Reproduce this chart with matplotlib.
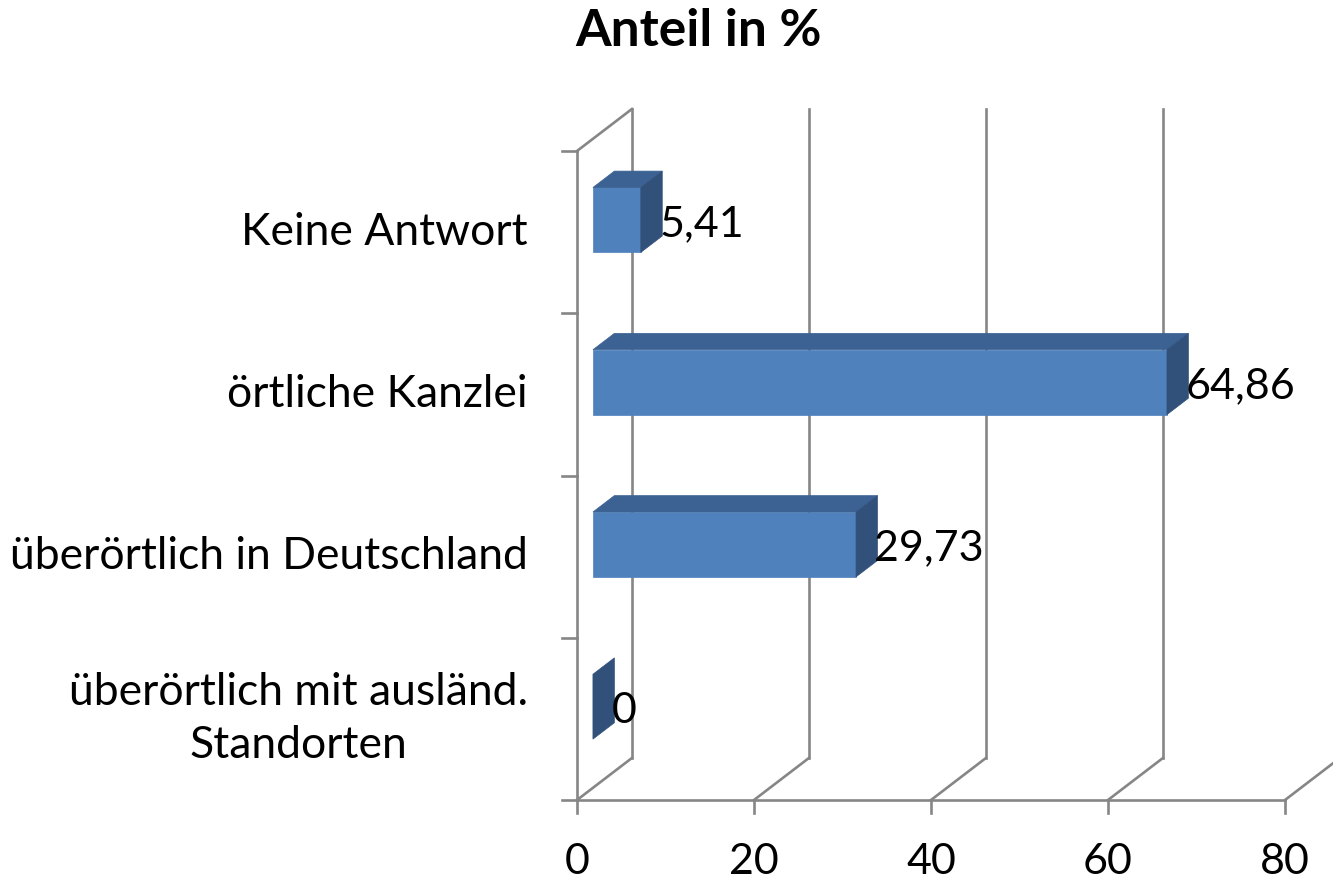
import matplotlib
matplotlib.use("Agg")
import matplotlib.pyplot as plt
from matplotlib.patches import Polygon

plt.rcParams['font.family'] = ['Lato', 'DejaVu Sans']

# data (bottom to top, as drawn)
categories = ["überörtlich mit ausländ.\nStandorten", "überörtlich in Deutschland",
              "örtliche Kanzlei", "Keine Antwort"]
values = [0, 29.73, 64.86, 5.41]
x_ticks = [0, 20, 40, 60, 80]
title = "Anteil in %"

# colours
front_col = "#4f81bd"
top_col = "#3c6293"
side_col = "#31517b"
grid_col = "#868686"

# fake 3d geometry (in data units)
DX = 6.21     # depth shift along x
DY = 0.259    # depth shift along y
BAR_H = 0.40  # bar thickness
BAR_F = 0.29  # bar front position inside the depth
BAR_D = 0.39  # bar depth

fig = plt.figure(figsize=(13.33, 8.84), dpi=100)
ax = fig.add_axes([0, 0, 1, 1])
# x: 0 -> 577px, 8.85 px per unit ; y: 0 -> 800px from top, 162.25 px per category
ax.set_xlim(-577 / 8.85, (1333 - 577) / 8.85)
ax.set_ylim(-84 / 162.25, 800 / 162.25)
ax.axis("off")

n = len(categories)
lw = 1.9
tick_x = 1.7
tick_y = 0.08

# back wall gridlines
for t in x_ticks:
    ax.plot([t + DX, t + DX], [DY, n + DY], color=grid_col, lw=lw, zorder=1)
    # floor diagonals
    ax.plot([t, t + DX], [0, DY], color=grid_col, lw=lw, zorder=1)
    # ticks below the axis
    ax.plot([t, t], [0, -tick_y], color=grid_col, lw=lw, zorder=1)
    ax.text(t, -0.385, str(t), ha="center", va="center", fontsize=31)

# left wall + axes
ax.plot([0, 0], [0, n], color=grid_col, lw=lw, zorder=1)
ax.plot([0, DX], [n, n + DY], color=grid_col, lw=lw, zorder=1)
ax.plot([0, x_ticks[-1]], [0, 0], color=grid_col, lw=lw, zorder=1)
for k in range(n + 1):
    ax.plot([-tick_x, 0], [k, k], color=grid_col, lw=lw, zorder=1)

# bars
for i, (cat, v) in enumerate(zip(categories, values)):
    x0 = BAR_F * DX
    y0 = i + 0.5 - BAR_H / 2 + BAR_F * DY
    ddx, ddy = BAR_D * DX, BAR_D * DY
    if v > 0:
        ax.barh(y0 + BAR_H / 2, v, height=BAR_H, left=x0, color=front_col,
                edgecolor=front_col, lw=0.5, zorder=3)
        ax.add_patch(Polygon([(x0, y0 + BAR_H), (x0 + v, y0 + BAR_H),
                              (x0 + v + ddx, y0 + BAR_H + ddy), (x0 + ddx, y0 + BAR_H + ddy)],
                             closed=True, fc=top_col, ec=top_col, lw=0.5, zorder=3))
    ax.add_patch(Polygon([(x0 + v, y0), (x0 + v + ddx, y0 + ddy),
                          (x0 + v + ddx, y0 + BAR_H + ddy), (x0 + v, y0 + BAR_H)],
                         closed=True, fc=side_col, ec=side_col, lw=0.5, zorder=3))
    label = f"{v:.2f}".replace(".", ",") if v != int(v) else str(int(v))
    ax.text(x0 + v + ddx - 0.35, y0 + 0.10, label, ha="left", va="baseline",
            fontsize=31, zorder=4)
    ax.text(-5.54, i + 0.5, cat, ha="right", va="center", multialignment="center",
            fontsize=32, linespacing=1.35)

fig.text(699 / 1333, 1 - 31 / 884, title, ha="center", va="center",
         fontsize=37, fontweight="bold")

fig.savefig("out.png", dpi=100)
